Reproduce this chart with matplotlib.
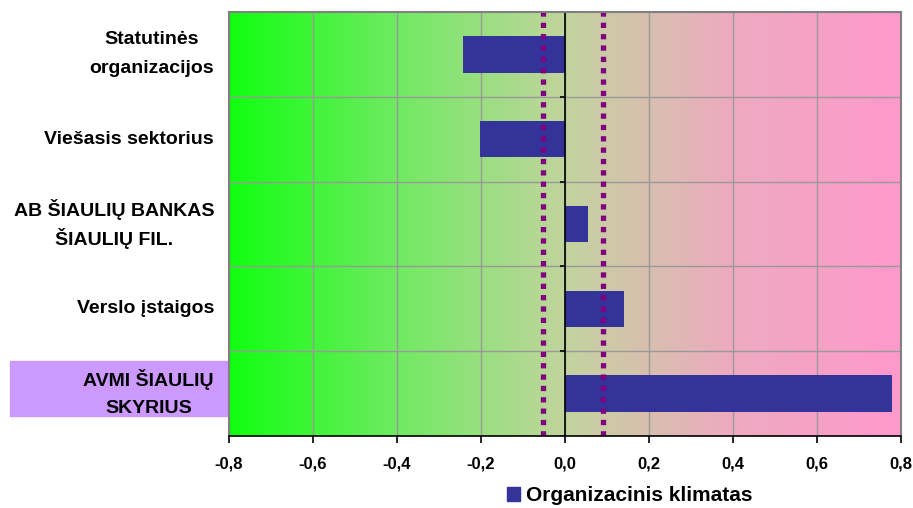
import numpy as np
import matplotlib.pyplot as plt
from matplotlib.colors import LinearSegmentedColormap
from matplotlib.patches import Rectangle, Patch
from matplotlib.ticker import FuncFormatter
from matplotlib.transforms import offset_copy

plt.rcParams['font.family'] = ['Liberation Sans', 'DejaVu Sans']

categories = [
    "Statutinės\norganizacijos",
    "Viešasis sektorius",
    "AB ŠIAULIŲ BANKAS\nŠIAULIŲ FIL.",
    "Verslo įstaigos",
    "AVMI ŠIAULIŲ\nSKYRIUS",
]
values = [-0.243, -0.202, 0.055, 0.14, 0.778]
ref_lines = [-0.053, 0.091]
series_name = "Organizacinis klimatas"

bar_color = "#333399"
grad = LinearSegmentedColormap.from_list("bg", [
    (0.00, "#11ff11"),
    (0.25, "#70ea62"),
    (0.50, "#c2d49e"),
    (0.75, "#eeaac0"),
    (1.00, "#ff99cc"),
])

fig = plt.figure(figsize=(9.13, 5.08), dpi=100)
ax = fig.add_axes([229 / 913, 1 - 436 / 508, 672 / 913, 424 / 508])

xmin, xmax = -0.8, 0.8
n = len(categories)
ax.set_xlim(xmin, xmax)
ax.set_ylim(n - 0.5, -0.5)

# gradient background
ax.imshow(np.linspace(0, 1, 256).reshape(1, -1), cmap=grad, aspect="auto",
          extent=(xmin, xmax, n - 0.5, -0.5), zorder=0)

# gridlines
for x in np.arange(-0.6, 0.61, 0.2):
    ax.axvline(x, color="#999999", lw=1, zorder=1)
for y in np.arange(0.5, n - 0.5, 1):
    ax.axhline(y, color="#999999", lw=1, zorder=1)

ypos = np.arange(n)
ax.barh(ypos, values, height=0.43, color=bar_color, zorder=2)

# value axis at zero
ax.axvline(0, color="black", lw=1.2, zorder=2.5)
for y in np.arange(-0.5, n, 1):
    ax.plot([-0.012, 0], [y, y], color="black", lw=1.2, zorder=2.5,
            solid_capstyle="butt")

for x in ref_lines:
    ax.axvline(x, color="#800080", lw=3.8, linestyle=(0, (1, 1.15)),
               dash_capstyle="butt", zorder=3)

for side in ["top", "right", "left"]:
    ax.spines[side].set_color("#808080")
    ax.spines[side].set_linewidth(1.5)
ax.spines["bottom"].set_color("black")
ax.spines["bottom"].set_linewidth(1.2)
for s in ax.spines.values():
    s.set_zorder(4)

ax.set_xticks(np.arange(-0.8, 0.81, 0.2))
ax.xaxis.set_major_formatter(FuncFormatter(
    lambda v, p: f"{v:.1f}".replace(".", ",").replace("-0,0", "0,0")))
ax.tick_params(axis="x", direction="out", length=5, width=1.2, pad=10,
               labelsize=12)
for lab in ax.get_xticklabels():
    lab.set_fontweight("bold")
ax.set_yticks([])

# highlighted label box behind the last category
ax.add_patch(Rectangle((10 / 913, 1 - 416 / 508), 218 / 913, 55 / 508,
                       transform=fig.transFigure, color="#cc99ff",
                       zorder=0.5, clip_on=False))

# category labels: each line drawn separately, block centred, right edge fixed
renderer = fig.canvas.get_renderer()
label_right = 214  # px
line_gap = 29  # px between line centres
for y, label in zip(ypos, categories):
    lines = label.split("\n")
    texts = []
    for i, line in enumerate(lines):
        dy = (i - (len(lines) - 1) / 2) * line_gap
        tr = offset_copy(ax.transData, fig=fig, x=0, y=-dy * 72 / fig.dpi,
                         units="points")
        t = ax.text(0, y, line, transform=tr, ha="center", va="center",
                    fontsize=14, fontweight="bold", zorder=5, clip_on=False)
        texts.append(t)
    width = max(t.get_window_extent(renderer).width for t in texts)
    x_data = ax.transData.inverted().transform(
        (label_right - width / 2, 0))[0]
    for t in texts:
        t.set_x(x_data)

fig.legend(handles=[Patch(color=bar_color, label=series_name)],
           loc="center", bbox_to_anchor=(0.69, 0.024), frameon=False,
           prop={"weight": "bold", "size": 15}, handlelength=0.6,
           handleheight=0.6, handletextpad=0.3)

fig.savefig("out.png", dpi=100)
